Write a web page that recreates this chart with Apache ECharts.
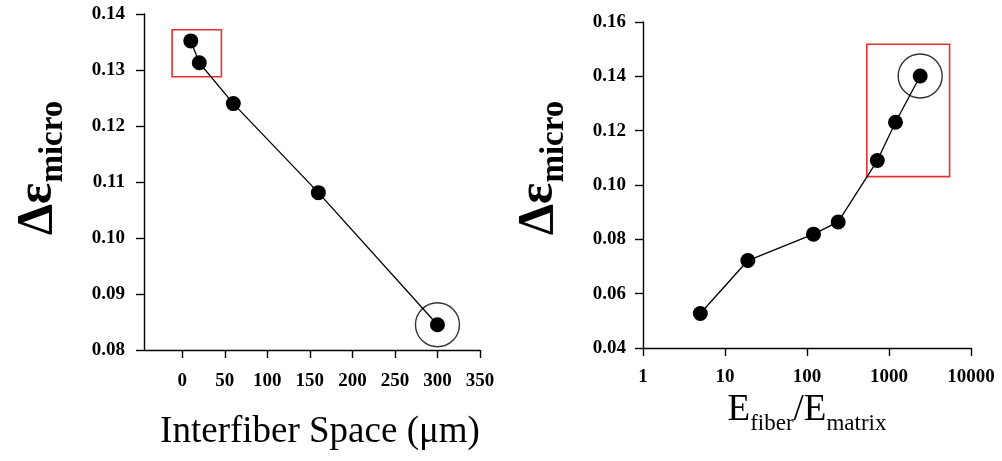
<!DOCTYPE html>
<html>
<head>
<meta charset="utf-8">
<script src="https://cdn.jsdelivr.net/npm/echarts@6/dist/echarts.min.js"></script>
<style>
  html, body { margin: 0; padding: 0; background: #fff; }
  #chart { width: 1002px; height: 461px; }
</style>
</head>
<body>
<div id="chart"></div>
<script>
// left panel: strain change vs interfiber space
const spaceX = [10, 20, 60, 160, 300]
const spaceY = [0.1352, 0.1313, 0.1240, 0.1081, 0.0845]
const spaceTicks = [0, 50, 100, 150, 200, 250, 300, 350]
const spaceBox = [-12, 46, 0.1288, 0.1372] // x0, x1, y0, y1 (data units)
const spaceCircled = [300, 0.0845]

// right panel: strain change vs modulus ratio (log x)
const ratioX = [5, 19, 120, 240, 720, 1200, 2400]
const ratioY = [0.0527, 0.0722, 0.0819, 0.0864, 0.1090, 0.1231, 0.1401]
const ratioBox = [536, 5480, 0.1031, 0.1518]
const ratioCircled = [2400, 0.1401]

const FONT = 'Liberation Serif'
const black = '#000'
const red = '#e8302e'

const axisLineStyle = { show: true, onZero: false, lineStyle: { color: black, width: 1.4 } }
const tickStyle = { show: true, inside: false, length: 8, lineStyle: { color: black, width: 1.4 } }
const labelStyle = { color: black, fontFamily: FONT, fontWeight: 'bold', fontSize: 19 }

const yName = '{a|Δε}{b|micro}'
const yNameStyle = (shift) => ({
  padding: [0, 0, 0, shift],
  rich: {
    a: { fontFamily: FONT, fontWeight: 'bold', fontSize: 50, lineHeight: 50, color: black, padding: [0, 0, 14, 0] },
    b: { fontFamily: FONT, fontWeight: 'bold', fontSize: 33, lineHeight: 33, color: black, verticalAlign: 'bottom' },
  },
})

const pairs = (xs, ys) => xs.map((x, i) => [x, ys[i]])

const boxArea = (b) => ({
  silent: true,
  label: { show: false },
  itemStyle: { color: 'rgba(0,0,0,0)', borderColor: red, borderWidth: 1.6 },
  data: [[{ coord: [b[0], b[3]] }, { coord: [b[1], b[2]] }]],
})

const chart = echarts.init(document.getElementById('chart'))

const option = {
  backgroundColor: '#fff',
  animation: false,
  grid: [
    { left: 144, right: 522, top: 14, bottom: 111, containLabel: false },
    { left: 643, right: 31, top: 22, bottom: 113, containLabel: false },
  ],
  xAxis: [
    {
      gridIndex: 0,
      type: 'value',
      min: -45,
      max: 350,
      splitLine: { show: false },
      axisLine: axisLineStyle,
      axisTick: { ...tickStyle, customValues: spaceTicks },
      axisLabel: { ...labelStyle, margin: 22, customValues: spaceTicks },
      name: 'Interfiber Space (μm)',
      nameLocation: 'middle',
      nameGap: 64,
      nameTextStyle: { fontFamily: FONT, fontSize: 37, color: black, padding: [0, 0, 0, 16] },
    },
    {
      gridIndex: 1,
      type: 'log',
      logBase: 10,
      min: 1,
      max: 10000,
      splitLine: { show: false },
      axisLine: axisLineStyle,
      axisTick: tickStyle,
      axisLabel: { ...labelStyle, margin: 20, formatter: (v) => String(Math.round(v)) },
      name: '{a|E}{b|fiber}{a|/E}{b|matrix}',
      nameLocation: 'middle',
      nameGap: 50,
      nameTextStyle: {
        rich: {
          a: { fontFamily: FONT, fontSize: 37, lineHeight: 37, color: black, padding: [0, 0, 12, 0] },
          b: { fontFamily: FONT, fontSize: 23, lineHeight: 23, color: black, verticalAlign: 'bottom' },
        },
      },
    },
  ],
  yAxis: [
    {
      gridIndex: 0,
      type: 'value',
      min: 0.08,
      max: 0.14,
      interval: 0.01,
      splitLine: { show: false },
      axisLine: axisLineStyle,
      axisTick: tickStyle,
      axisLabel: { ...labelStyle, margin: 19, formatter: (v) => v.toFixed(2) },
      name: yName,
      nameLocation: 'middle',
      nameGap: 74,
      nameTextStyle: yNameStyle(28),
    },
    {
      gridIndex: 1,
      type: 'value',
      min: 0.04,
      max: 0.16,
      interval: 0.02,
      splitLine: { show: false },
      axisLine: axisLineStyle,
      axisTick: tickStyle,
      axisLabel: { ...labelStyle, margin: 17, formatter: (v) => v.toFixed(2) },
      name: yName,
      nameLocation: 'middle',
      nameGap: 72,
      nameTextStyle: yNameStyle(34),
    },
  ],
  series: [
    {
      type: 'line',
      xAxisIndex: 0,
      yAxisIndex: 0,
      data: pairs(spaceX, spaceY),
      symbol: 'circle',
      symbolSize: 15,
      itemStyle: { color: black },
      lineStyle: { color: black, width: 1.3 },
      markArea: boxArea(spaceBox),
    },
    {
      type: 'scatter',
      xAxisIndex: 0,
      yAxisIndex: 0,
      data: [spaceCircled],
      symbol: 'circle',
      symbolSize: 44,
      silent: true,
      itemStyle: { color: 'rgba(0,0,0,0)', borderColor: black, borderWidth: 1.4 },
    },
    {
      type: 'line',
      xAxisIndex: 1,
      yAxisIndex: 1,
      data: pairs(ratioX, ratioY),
      symbol: 'circle',
      symbolSize: 15,
      itemStyle: { color: black },
      lineStyle: { color: black, width: 1.3 },
      markArea: boxArea(ratioBox),
    },
    {
      type: 'scatter',
      xAxisIndex: 1,
      yAxisIndex: 1,
      data: [ratioCircled],
      symbol: 'circle',
      symbolSize: 44,
      silent: true,
      itemStyle: { color: 'rgba(0,0,0,0)', borderColor: black, borderWidth: 1.4 },
    },
  ],
}

chart.setOption(option)
</script>
</body>
</html>
